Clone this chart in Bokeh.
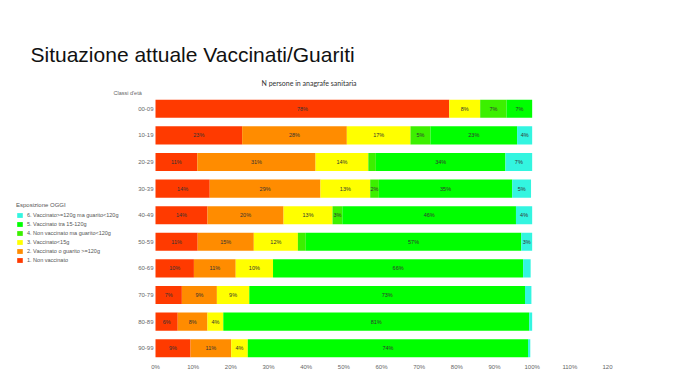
from bokeh.plotting import figure
from bokeh.models import ColumnDataSource, Range1d, FactorRange, Legend, LegendItem, Title, FixedTicker
from bokeh.embed import file_html
from bokeh.resources import INLINE
from bokeh.core.properties import value

classes = ["00-09", "10-19", "20-29", "30-39", "40-49", "50-59", "60-69", "70-79", "80-89", "90-99"]
s1_non_vaccinato = [78.0, 23.0, 11.1, 14.4, 13.8, 11.2, 10.2, 7.0, 5.9, 9.3]
s2_vacc_o_guarito_ge120 = [0.0, 27.8, 31.4, 29.4, 20.2, 14.9, 11.1, 9.3, 7.9, 10.8]
s3_vacc_lt15 = [8.2, 16.9, 14.0, 13.2, 13.0, 11.7, 9.9, 8.6, 4.2, 4.4]
s4_non_vacc_guarito_lt120 = [7.0, 5.3, 2.0, 2.3, 2.6, 2.1, 0.0, 0.0, 0.0, 0.0]
s5_vacc_15_120 = [6.8, 23.0, 34.4, 35.4, 46.1, 57.2, 66.4, 73.2, 81.2, 74.4]
s6_vacc_ge120_guarito_lt120 = [0.0, 4.0, 7.1, 5.0, 4.3, 2.9, 2.0, 1.7, 0.8, 0.6]

series_keys = ["s1", "s2", "s3", "s4", "s5", "s6"]
series_names = [
    "1. Non vaccinato",
    "2. Vaccinato o guarito >=120g",
    "3. Vaccinato<15g",
    "4. Non vaccinato ma guarito<120g",
    "5. Vaccinato tra 15-120g",
    "6. Vaccinato>=120g ma guarito<120g",
]
series_values = [s1_non_vaccinato, s2_vacc_o_guarito_ge120, s3_vacc_lt15,
                 s4_non_vacc_guarito_lt120, s5_vacc_15_120, s6_vacc_ge120_guarito_lt120]
colors = ["#FF3A00", "#FF8C00", "#FFFF00", "#3CF000", "#00FF00", "#33F5E0"]

x_ticks = [0, 10, 20, 30, 40, 50, 60, 70, 80, 90, 100, 110, 120]
x_tick_labels = ["0%", "10%", "20%", "30%", "40%", "50%", "60%", "70%", "80%", "90%", "100%", "110%", "120"]

data = {"cls": classes}
for k, v in zip(series_keys, series_values):
    data[k] = v
src = ColumnDataSource(data)

# segment labels
lx, ly, lt = [], [], []
for i, c in enumerate(classes):
    start = 0.0
    for v in series_values:
        vi = v[i]
        if vi >= 2.2:
            lx.append(start + vi / 2.0)
            ly.append(c)
            lt.append(f"{int(round(vi))}%")
        start += vi
lab_src = ColumnDataSource(dict(x=lx, y=ly, t=lt))

# frame spans page x 8..607; 0% sits at x=155
FRAME_LEFT, ZERO_X, FRAME_RIGHT = 8, 155, 607
x_min = -120.0 * (ZERO_X - FRAME_LEFT) / (FRAME_RIGHT - ZERO_X)

p = figure(width=680, height=383, output_backend="svg", toolbar_location=None,
           x_range=Range1d(x_min, 120), y_range=FactorRange(factors=list(reversed(classes))),
           min_border_left=FRAME_LEFT, min_border_right=680 - FRAME_RIGHT, min_border_top=95,
           min_border_bottom=22)
p.outline_line_color = None
p.grid.grid_line_color = None

rs = p.hbar_stack(series_keys, y="cls", height=0.68, color=colors, source=src, line_width=0)

p.text(x="x", y="y", text="t", source=lab_src, text_align="center", text_baseline="middle",
       text_font_size="5.5px", text_color="#333333", text_font=value("Liberation Sans"))

p.xaxis.ticker = FixedTicker(ticks=x_ticks)
p.xaxis.major_label_overrides = {t: l for t, l in zip(x_ticks, x_tick_labels)}
p.yaxis.fixed_location = 0
for ax in (p.xaxis[0], p.yaxis[0]):
    ax.axis_line_color = None
    ax.major_tick_line_color = None
    ax.minor_tick_line_color = None
    ax.major_tick_out = 0
    ax.major_tick_in = 0
    ax.major_label_text_font_size = "6px"
    ax.major_label_text_color = "#666666"
    ax.major_label_text_font = "Liberation Sans"
    ax.major_label_standoff = 2

items = [LegendItem(label=series_names[i], renderers=[rs[i]]) for i in reversed(range(6))]
legend = Legend(items=items, location=(8, 97), title="Esposizione OGGI",
                title_text_font_size="6px", title_text_color="#555555", title_text_font="Liberation Sans",
                title_standoff=2, title_text_font_style="normal",
                label_text_font_size="5.5px", label_text_color="#555555", label_text_font="Liberation Sans",
                glyph_width=7, glyph_height=6, label_height=9, label_standoff=4, spacing=0,
                padding=0, margin=0, border_line_color=None, background_fill_alpha=0)
p.add_layout(legend, "center")

p.add_layout(Title(text="Classi d'età", align="left", offset=113 - FRAME_LEFT, text_font_size="5.5px",
                   text_font="Liberation Sans", text_color="#666666", text_font_style="normal",
                   standoff=0), "above")
p.add_layout(Title(text="N persone in anagrafe sanitaria", align="left", offset=261 - FRAME_LEFT,
                   text_font_size="7px", text_font="Lato", text_color="#333333",
                   text_font_style="normal", standoff=2), "above")
p.add_layout(Title(text="Situazione attuale Vaccinati/Guariti", align="left", offset=30 - FRAME_LEFT,
                   text_font_size="21px", text_font="Liberation Sans", text_color="#111111",
                   text_font_style="normal", standoff=20), "above")

open("out.html", "w").write(file_html(p, INLINE))
